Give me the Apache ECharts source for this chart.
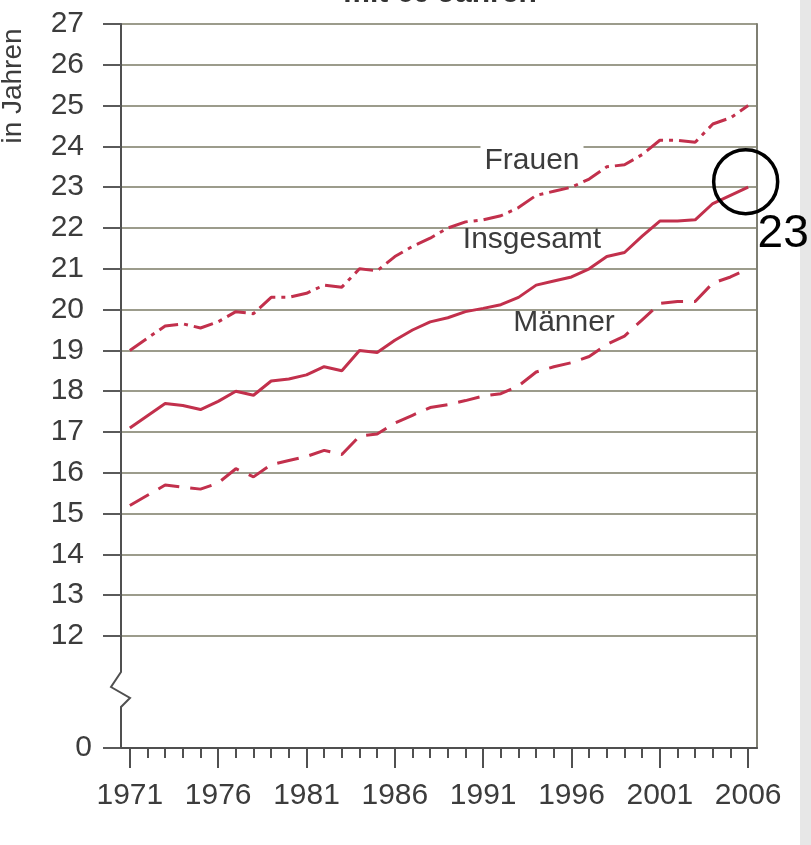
<!DOCTYPE html>
<html>
<head>
<meta charset="utf-8">
<script src="https://cdn.jsdelivr.net/npm/echarts@6/dist/echarts.min.js"></script>
<style>
html,body{margin:0;padding:0;background:#fff;}
#chart{width:811px;height:845px;}
</style>
</head>
<body>
<div id="chart"></div>
<script>
// ---- data ----
const years = ['1971','1972','1973','1974','1975','1976','1977','1978','1979','1980',
  '1981','1982','1983','1984','1985','1986','1987','1988','1989','1990',
  '1991','1992','1993','1994','1995','1996','1997','1998','1999','2000',
  '2001','2002','2003','2004','2005','2006'];
const frauen = [19.0,19.3,19.6,19.65,19.55,19.7,19.95,19.9,20.3,20.3,20.4,20.6,
  20.55,21.0,20.95,21.3,21.55,21.75,22.0,22.15,22.2,22.3,22.5,22.8,
  22.9,23.0,23.2,23.5,23.55,23.8,24.15,24.15,24.1,24.55,24.7,25.0];
const insgesamt = [17.1,17.4,17.7,17.65,17.55,17.75,18.0,17.9,18.25,18.3,18.4,18.6,
  18.5,19.0,18.95,19.25,19.5,19.7,19.8,19.95,20.03,20.12,20.3,20.6,
  20.7,20.8,21.0,21.3,21.4,21.8,22.17,22.17,22.2,22.6,22.8,23.0];
const maenner = [15.2,15.45,15.7,15.65,15.6,15.75,16.1,15.9,16.2,16.3,16.4,16.55,
  16.45,16.9,16.95,17.22,17.41,17.6,17.67,17.77,17.88,17.94,18.13,18.47,
  18.6,18.7,18.85,19.15,19.35,19.75,20.15,20.2,20.2,20.65,20.8,21.0];
const seriesNames = ['Frauen','Insgesamt','Männer'];
const yUpperMin = 12, yUpperMax = 27, yStep = 1;
const highlightLabel = '23';
const titleText = 'mit 60 Jahren';
const yName = 'in Jahren';

// ---- layout ----
const W = 811;
const L = 121, R = 757, TOP = 24, BRK = 636, BOT = 748;
const FONT = '"Liberation Sans", Arial, sans-serif';
const RED = '#c2304c';
const TXT = '#3c3c3c';
const AX = '#505050';
const GRID = '#9c9c8c';

const chart = echarts.init(document.getElementById('chart'), null, {renderer: 'canvas'});

const option = {
  backgroundColor: '#fff',
  animation: false,
  grid: [
    {left: L, right: W - R, top: TOP, height: BRK - TOP, outerBoundsMode: 'none', containLabel: false},
    {left: L, right: W - R, top: BRK, height: BOT - BRK, outerBoundsMode: 'none', containLabel: false}
  ],
  xAxis: [
    {gridIndex: 0, type: 'category', data: years, boundaryGap: true, show: false},
    {gridIndex: 1, type: 'category', data: years, boundaryGap: true, position: 'bottom',
      axisLine: {show: true, lineStyle: {color: AX, width: 2}},
      axisTick: {show: true, interval: 4, alignWithLabel: true, length: 20, lineStyle: {color: AX, width: 2}},
      axisLabel: {show: true, interval: 4, fontSize: 30, color: TXT, fontFamily: FONT, margin: 33},
      splitLine: {show: false}},
    {gridIndex: 1, type: 'category', data: years, boundaryGap: true, position: 'bottom',
      axisLine: {show: false},
      axisTick: {show: true, interval: 0, alignWithLabel: true, length: 10, lineStyle: {color: AX, width: 2}},
      axisLabel: {show: false},
      splitLine: {show: false}}
  ],
  yAxis: [
    {gridIndex: 0, type: 'value', min: yUpperMin, max: yUpperMax, interval: yStep,
      axisLine: {show: true, lineStyle: {color: AX, width: 2}},
      axisTick: {show: true, length: 18, lineStyle: {color: '#5a5a5a', width: 2}},
      axisLabel: {fontSize: 30, color: TXT, fontFamily: FONT, margin: 37},
      splitLine: {show: true, lineStyle: {color: GRID, width: 2}}},
    {gridIndex: 1, type: 'value', min: 0, max: 10, interval: 10,
      axisLine: {show: false},
      axisTick: {show: true, length: 18, lineStyle: {color: '#5a5a5a', width: 2}},
      axisLabel: {fontSize: 30, color: TXT, fontFamily: FONT, margin: 29,
        formatter: v => (v === 0 ? '0' : '')},
      splitLine: {show: false}},
    {gridIndex: 0, type: 'value', position: 'right', min: yUpperMin, max: yUpperMax,
      axisLine: {show: true, lineStyle: {color: '#7f7f73', width: 2}},
      axisTick: {show: false}, axisLabel: {show: false}, splitLine: {show: false}},
    {gridIndex: 1, type: 'value', position: 'right', min: 0, max: 10,
      axisLine: {show: true, lineStyle: {color: '#7f7f73', width: 2}},
      axisTick: {show: false}, axisLabel: {show: false}, splitLine: {show: false}}
  ],
  series: [
    {name: seriesNames[0], type: 'line', data: frauen, xAxisIndex: 0, yAxisIndex: 0,
      showSymbol: false, symbol: 'none', z: 3,
      lineStyle: {color: RED, width: 3, type: [20, 6, 4, 6]}},
    {name: seriesNames[1], type: 'line', data: insgesamt, xAxisIndex: 0, yAxisIndex: 0,
      showSymbol: false, symbol: 'none', z: 3,
      lineStyle: {color: RED, width: 3, type: 'solid'},
      markPoint: {
        symbol: 'circle', symbolSize: 64, symbolOffset: [-2.5, -5.5], silent: true,
        itemStyle: {color: 'rgba(0,0,0,0)', borderColor: '#000', borderWidth: 3.5},
        label: {show: true, position: 'inside', offset: [37.5, 53], formatter: highlightLabel,
          fontSize: 46, color: '#000', fontFamily: FONT},
        data: [{coord: [years[years.length - 1], insgesamt[insgesamt.length - 1]]}]
      }},
    {name: seriesNames[2], type: 'line', data: maenner, xAxisIndex: 0, yAxisIndex: 0,
      showSymbol: false, symbol: 'none', z: 3,
      lineStyle: {color: RED, width: 3, type: [22, 11]}}
  ],
  graphic: [
    {type: 'rect', z: -10, shape: {x: 800, y: 0, width: 11, height: 845}, style: {fill: '#e7e7e7'}},
    {type: 'polyline', z: 100, shape: {points: [[L, BRK], [L, 672], [111, 687], [130, 698], [L, 707], [L, BOT]]},
      style: {stroke: AX, lineWidth: 2, fill: null}},
    {type: 'text', z: 100, x: 532, y: 161,
      style: {text: seriesNames[0], font: '30px ' + FONT, fill: TXT, align: 'center', verticalAlign: 'middle',
        backgroundColor: '#fff', padding: [5, 4, 2, 4]}},
    {type: 'text', z: 100, x: 532, y: 240,
      style: {text: seriesNames[1], font: '30px ' + FONT, fill: TXT, align: 'center', verticalAlign: 'middle'}},
    {type: 'text', z: 100, x: 564, y: 323,
      style: {text: seriesNames[2], font: '30px ' + FONT, fill: TXT, align: 'center', verticalAlign: 'middle'}},
    {type: 'text', z: 100, x: 13, y: 86, rotation: Math.PI / 2,
      style: {text: yName, font: '28px ' + FONT, fill: TXT, align: 'center', verticalAlign: 'middle'}},
    {type: 'text', z: 100, x: 440, y: -6,
      style: {text: titleText, font: 'bold 30px ' + FONT, fill: '#333', align: 'center', verticalAlign: 'middle'}}
  ]
};
chart.setOption(option);
</script>
</body>
</html>
